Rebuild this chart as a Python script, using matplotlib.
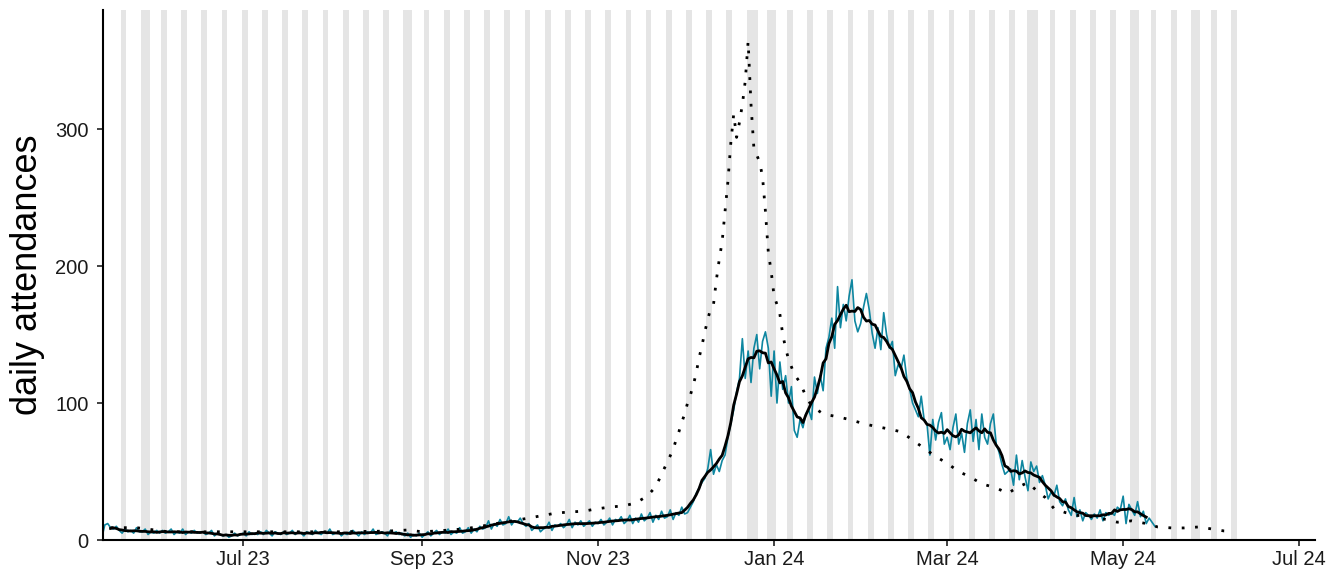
#!/usr/bin/env python3
"""Daily attendances with 7-day mean, previous season overlay and weekend shading."""

import matplotlib

matplotlib.use("Agg")
import matplotlib.dates as mdates  # noqa: E402
import matplotlib.pyplot as plt  # noqa: E402
import pandas as pd  # noqa: E402

# daily counts, one row per week (Sat .. Fri), first day below
DAILY_START = "2023-05-13"
DAILY_WEEKS = [
    [2, 11, 12, 9, 8, 10, 7],
    [5, 8, 6, 7, 5, 9, 6],
    [6, 8, 4, 6, 5, 7, 5],
    [7, 5, 6, 8, 4, 6, 5],
    [8, 4, 6, 5, 7, 5, 6],
    [6, 4, 5, 7, 3, 5, 4],
    [3, 4, 2, 3, 5, 3, 4],
    [5, 3, 6, 4, 5, 4, 6],
    [4, 7, 5, 3, 6, 5, 4],
    [6, 4, 5, 7, 4, 6, 5],
    [3, 6, 5, 4, 7, 5, 4],
    [6, 5, 8, 4, 5, 6, 3],
    [5, 4, 6, 7, 5, 3, 6],
    [4, 6, 5, 8, 4, 5, 6],
    [5, 3, 7, 5, 6, 4, 5],
    [3, 5, 2, 4, 3, 5, 2],
    [4, 6, 3, 5, 7, 4, 6],
    [5, 8, 4, 6, 5, 9, 5],
    [6, 9, 5, 8, 6, 10, 8],
    [9, 14, 8, 12, 10, 15, 11],
    [12, 17, 11, 14, 13, 16, 12],
    [10, 12, 7, 9, 11, 6, 8],
    [9, 13, 7, 11, 10, 12, 9],
    [11, 15, 9, 13, 11, 14, 10],
    [12, 14, 10, 13, 12, 15, 11],
    [13, 16, 11, 15, 14, 17, 12],
    [14, 18, 12, 16, 13, 19, 14],
    [16, 20, 13, 18, 15, 21, 16],
    [17, 22, 15, 20, 18, 24, 19],
    [20, 24, 28, 34, 38, 42, 45],
    [52, 66, 48, 55, 50, 58, 62],
    [75, 85, 95, 108, 118, 147, 118],
    [138, 115, 140, 150, 125, 145, 152],
    [140, 105, 138, 100, 130, 110, 120],
    [100, 112, 80, 75, 88, 82, 92],
    [95, 88, 119, 107, 120, 109, 140],
    [148, 162, 140, 185, 155, 172, 160],
    [178, 190, 160, 152, 158, 170, 180],
    [168, 151, 140, 155, 139, 166, 150],
    [140, 145, 120, 128, 125, 135, 118],
    [110, 100, 95, 90, 105, 88, 85],
    [62, 88, 73, 86, 93, 70, 75],
    [66, 82, 92, 70, 78, 64, 85],
    [95, 72, 88, 66, 92, 75, 70],
    [85, 92, 70, 64, 55, 48, 50],
    [52, 40, 62, 44, 58, 46, 36],
    [57, 50, 54, 42, 47, 40, 30],
    [35, 32, 40, 28, 25, 30, 22],
    [18, 31, 17, 22, 14, 20, 18],
    [15, 19, 16, 22, 14, 20, 18],
    [20, 18, 24, 22, 32, 12, 26],
    [22, 18, 28, 17, 21, 12, 16],
    [13, 10],
]
SMOOTH_DAYS = 7

# previous season (dotted)
PREV_DATES = [
    "2023-05-16", "2023-05-25", "2023-06-05", "2023-06-15", "2023-06-25",
    "2023-07-05", "2023-07-20", "2023-08-05", "2023-08-20", "2023-08-27",
    "2023-09-01", "2023-09-06", "2023-09-15", "2023-09-20", "2023-09-28",
    "2023-10-08", "2023-10-13", "2023-10-17", "2023-10-22", "2023-10-27",
    "2023-10-31", "2023-11-05", "2023-11-10", "2023-11-14", "2023-11-18",
    "2023-11-21", "2023-11-23", "2023-11-25", "2023-11-27", "2023-11-28",
    "2023-11-29", "2023-11-30", "2023-12-01", "2023-12-02", "2023-12-03",
    "2023-12-04", "2023-12-05", "2023-12-06", "2023-12-07", "2023-12-08",
    "2023-12-09", "2023-12-10", "2023-12-11", "2023-12-12", "2023-12-13",
    "2023-12-14", "2023-12-15", "2023-12-16", "2023-12-17", "2023-12-18",
    "2023-12-19", "2023-12-20", "2023-12-21", "2023-12-22", "2023-12-23",
    "2023-12-24", "2023-12-25", "2023-12-27", "2023-12-28", "2023-12-29",
    "2023-12-30", "2023-12-31", "2024-01-01", "2024-01-02", "2024-01-03",
    "2024-01-04", "2024-01-05", "2024-01-06", "2024-01-08", "2024-01-10",
    "2024-01-12", "2024-01-14", "2024-01-18", "2024-01-23", "2024-01-27",
    "2024-02-01", "2024-02-05", "2024-02-10", "2024-02-14", "2024-02-18",
    "2024-02-22", "2024-02-26", "2024-03-01", "2024-03-05", "2024-03-09",
    "2024-03-13", "2024-03-18", "2024-03-22", "2024-03-25", "2024-03-29",
    "2024-04-01", "2024-04-04", "2024-04-07", "2024-04-11", "2024-04-15",
    "2024-04-20", "2024-04-25", "2024-04-29", "2024-05-04", "2024-05-09",
    "2024-05-13", "2024-05-18", "2024-05-22", "2024-05-27", "2024-06-01",
    "2024-06-05", "2024-06-06",
]
PREV_VALUES = [
    9, 9, 6, 6, 6,
    6, 6, 6, 6.5, 7.3,
    6, 6.6, 8, 9.5, 12.5,
    16, 18, 19.5, 20.5, 21,
    22.6, 24, 25, 27, 32,
    39, 48, 57, 66, 73,
    79, 86, 92, 100, 106,
    113, 122, 133, 142, 152,
    161, 169, 172, 190, 205,
    218, 240, 262, 290, 311,
    294, 305, 318, 335, 364,
    318, 286, 276, 265, 240,
    210, 196, 178, 172, 165,
    150, 140, 132, 121, 115,
    105, 98, 92, 90, 88,
    85, 83, 81, 79, 73,
    67, 61, 56, 50, 46,
    41, 38, 34, 38, 42,
    36, 31, 23, 20, 18,
    17, 15, 13, 14, 12,
    9.5, 8.8, 8.8, 9.5, 8,
    6.6, 6.5,
]

# shaded days: weekends in this span plus bank holidays
SHADE_START = "2023-05-20"
SHADE_END = "2024-06-09"
BANK_HOLIDAYS = [
    "2023-05-29", "2023-08-28", "2023-12-25", "2023-12-26", "2024-01-01",
    "2024-03-29", "2024-04-01", "2024-05-06", "2024-05-27",
]

TICK_DATES = [
    "2023-07-01", "2023-09-01", "2023-11-01", "2024-01-01",
    "2024-03-01", "2024-05-01", "2024-07-01",
]
X_LIMITS = ("2023-05-13 09:00", "2024-07-06 12:00")
Y_LIMITS = (0, 387)
Y_TICKS = [0, 100, 200, 300]

TEAL = "#0E86A0"
SHADE = "#E5E5E5"


def shade_runs(days):
    """Group sorted days into runs of consecutive dates."""
    runs = []
    for d in days:
        if runs and (d - runs[-1][1]).days == 1:
            runs[-1][1] = d
        else:
            runs.append([d, d])
    return runs


def main():
    plt.rcParams.update(
        {
            "font.family": ["Liberation Sans", "DejaVu Sans"],
            "font.size": 14,
        }
    )

    values = [v for week in DAILY_WEEKS for v in week]
    daily = pd.Series(
        values, index=pd.date_range(DAILY_START, periods=len(values), freq="D")
    )
    smooth = daily.rolling(SMOOTH_DAYS, center=True).mean()

    cal = pd.date_range(SHADE_START, SHADE_END, freq="D")
    shade_days = set(cal[cal.weekday >= 5]) | set(pd.to_datetime(BANK_HOLIDAYS))
    half = pd.Timedelta(hours=12)

    fig = plt.figure(figsize=(13.31, 5.74), dpi=100)
    ax = fig.add_axes([103 / 1331, 34 / 574, 1212 / 1331, 530 / 574])

    for start, end in shade_runs(sorted(shade_days)):
        ax.axvspan(start - half, end + half, color=SHADE, lw=0, zorder=0)

    ax.plot(daily.index, daily.values, color=TEAL, lw=1.2, zorder=2)
    ax.plot(smooth.index, smooth.values, color="black", lw=2.0, zorder=3)
    ax.plot(
        pd.to_datetime(PREV_DATES),
        PREV_VALUES,
        color="black",
        lw=2.0,
        linestyle=(0, (1, 3.8)),
        dash_capstyle="butt",
        zorder=4,
    )

    ax.set_xlim(pd.Timestamp(X_LIMITS[0]), pd.Timestamp(X_LIMITS[1]))
    ax.set_ylim(*Y_LIMITS)
    ax.set_xticks(pd.to_datetime(TICK_DATES))
    ax.xaxis.set_major_formatter(mdates.DateFormatter("%b %y"))
    ax.set_yticks(Y_TICKS)
    ax.set_ylabel("daily attendances", fontsize=26, labelpad=7)

    for side in ("top", "right"):
        ax.spines[side].set_visible(False)
    for side in ("left", "bottom"):
        ax.spines[side].set_linewidth(1.5)
        ax.spines[side].set_color("black")
    ax.tick_params(
        axis="both",
        direction="out",
        length=4.5,
        width=1.3,
        color="#333333",
        labelcolor="#1a1a1a",
        labelsize=14.5,
    )
    ax.tick_params(axis="x", pad=3)
    ax.tick_params(axis="y", pad=6)

    fig.savefig("out.png", dpi=100)
    plt.close(fig)


if __name__ == "__main__":
    main()
